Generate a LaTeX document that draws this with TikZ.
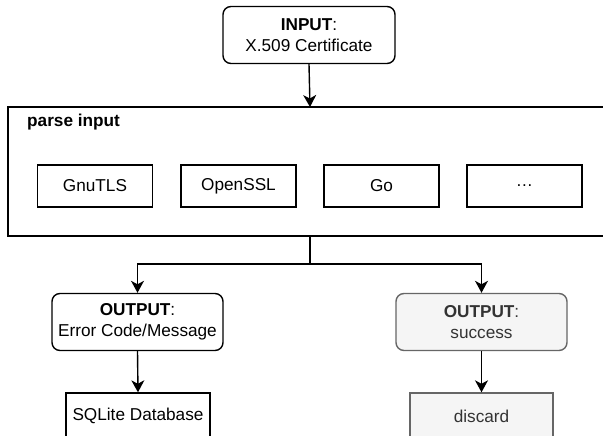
\documentclass[tikz,border=0pt]{standalone}
\usepackage{fontspec}
\setmainfont{Liberation Sans}
\usetikzlibrary{arrows.meta,calc}
\definecolor{grayfill}{HTML}{F5F5F5}
\definecolor{grayline}{HTML}{666666}
\definecolor{graytext}{HTML}{333333}
\begin{document}
\begin{tikzpicture}[x=1pt,y=-1pt,
  every node/.style={font=\fontsize{17.2}{21}\selectfont, align=center, inner sep=0pt},
  box/.style={draw=black, line width=1.4pt, minimum width=#1},
  rbox/.style={draw=black, line width=1.4pt, rounded corners=8pt, minimum width=#1, minimum height=57pt},
  graybox/.style={fill=grayfill, draw=grayline, text=graytext},
  libbox/.style={draw=black, line width=1.4pt, minimum width=115pt, minimum height=42pt},
  conn/.style={line width=1.4pt, draw=black},
  arr/.style={conn, -{Stealth[length=12pt,width=13pt,inset=3.5pt]}}
]
\clip (0,0) rectangle (603,436);
\fill[white] (0,0) rectangle (603,436);

\node[rbox=172pt] (input) at (309,35) {\textbf{INPUT}:\\X.509 Certificate};

\node[box=614pt, minimum height=129pt] (parse) at (315,171.5) {};
\node[anchor=west, font=\fontsize{17.2}{21}\selectfont\bfseries] (plabel) at (27,122) {parse input};

\node[libbox] (gnutls) at (95,186) {GnuTLS};
\node[libbox] (openssl) at (238.5,186) {OpenSSL};
\node[libbox] (go) at (381.5,186) {Go};
\node[libbox] (more) at (524.5,186) {\dots};

\coordinate (top) at (310,107);
\coordinate (stem) at (310,236);
\coordinate (junc) at (310,264);

\node[rbox=171pt] (err) at (137.5,322) {\textbf{OUTPUT}:\\Error Code/Message};
\node[rbox=171pt, graybox] (succ) at (481.5,322) {\textbf{OUTPUT}:\\success};

\node[box=144pt, minimum height=46pt] (db) at (138,416) {SQLite Database};
\node[box=143pt, minimum height=46pt, graybox] (disc) at (481.5,416) {discard};

\draw[arr] (input.south) -- (top);
\draw[conn] (stem) -- (junc);
\draw[arr] (junc) -| (err.north);
\draw[arr] (junc) -| (succ.north);
\draw[arr] (err.south) -- (db.north);
\draw[arr] (succ.south) -- (disc.north);
\end{tikzpicture}
\end{document}
